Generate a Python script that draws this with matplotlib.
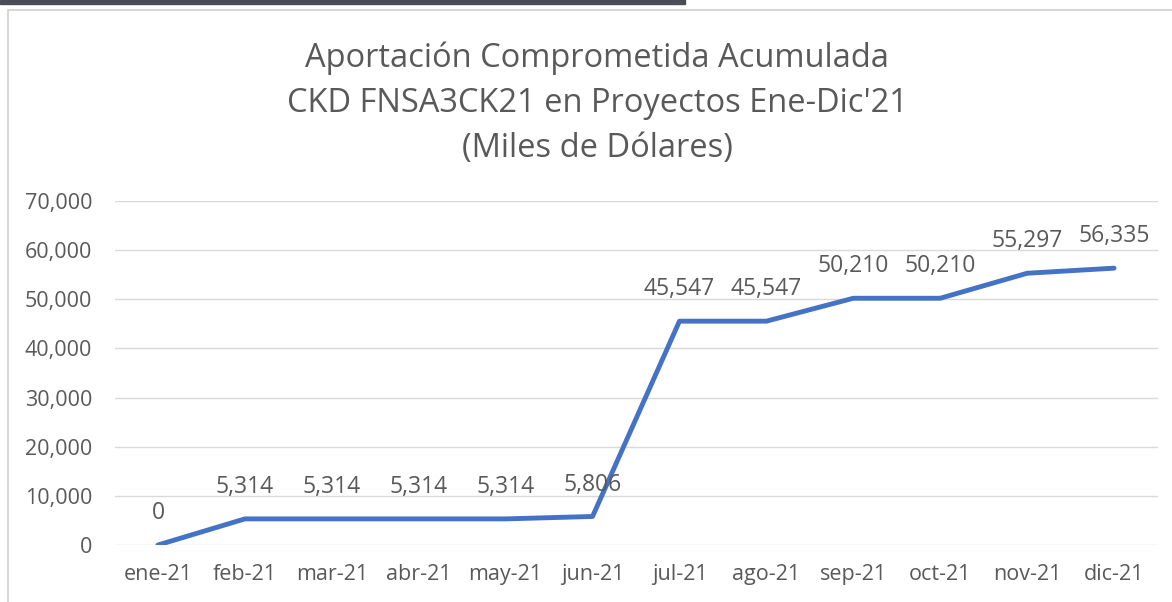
import matplotlib
matplotlib.use("Agg")
import matplotlib.pyplot as plt
from matplotlib.patches import Rectangle

months = ["ene-21", "feb-21", "mar-21", "abr-21", "may-21", "jun-21",
          "jul-21", "ago-21", "sep-21", "oct-21", "nov-21", "dic-21"]
values = [0, 5314, 5314, 5314, 5314, 5806,
          45547, 45547, 50210, 50210, 55297, 56335]
yticks = [0, 10000, 20000, 30000, 40000, 50000, 60000, 70000]
title = "Aportación Comprometida Acumulada\nCKD FNSA3CK21 en Proyectos Ene-Dic'21\n(Miles de Dólares)"

plt.rcParams["font.family"] = ["Open Sans", "DejaVu Sans"]
gray = "#595959"

fig = plt.figure(figsize=(11.72, 6.02), dpi=100)
W, H = 1172, 602

# frame decorations
fig.patches.append(Rectangle((0, 1 - 4 / H), 685 / W, 4 / H, transform=fig.transFigure,
                             color="#4a4d57", zorder=0))
fig.patches.append(Rectangle((8 / W, -0.05), 1.2, 1 - 10 / H + 0.05, transform=fig.transFigure,
                             fill=False, edgecolor="#d0d0d0", lw=1.2, zorder=0))

ax = fig.add_axes([114.5 / W, 57 / H, (1157.5 - 114.5) / W, (545 - 201) / H])
x = list(range(len(months)))
ax.plot(x, values, color="#4472C4", lw=3.5, solid_capstyle="round", solid_joinstyle="round",
        zorder=3)
for xi, v in zip(x, values):
    ax.annotate(f"{v:,}", (xi, v), xytext=(0, 23), textcoords="offset points",
                ha="center", va="center", fontsize=16.5, color=gray)

ax.set_xlim(-0.5, len(months) - 0.5)
ax.set_ylim(0, 70000)
ax.set_yticks(yticks)
ax.set_yticklabels([f"{t:,}" for t in yticks])
ax.set_xticks(x)
ax.set_xticklabels(months)
ax.tick_params(length=0, labelsize=15.5, labelcolor=gray)
ax.tick_params(axis="x", pad=14)
ax.tick_params(axis="y", pad=16)
ax.grid(axis="y", color="#d9d9d9", lw=1)
ax.set_axisbelow(True)
for s in ax.spines.values():
    s.set_visible(False)

fig.text(597 / W, 1 - 103 / H, title, ha="center", va="center", fontsize=23.5,
         color=gray, linespacing=1.48)

fig.savefig("out.png", dpi=100)
